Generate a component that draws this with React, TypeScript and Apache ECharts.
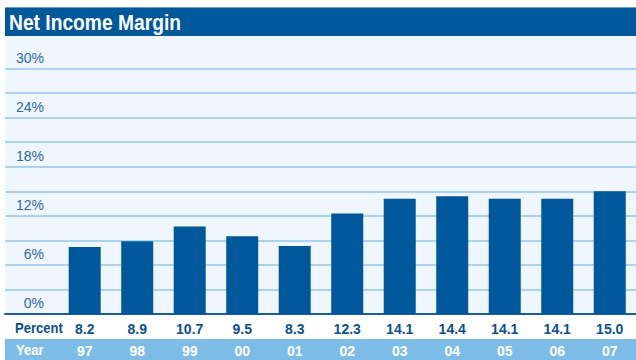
import React, { useEffect, useRef } from "react";
import * as echarts from "echarts";

const years = ["97", "98", "99", "00", "01", "02", "03", "04", "05", "06", "07"];
const netMargin = [8.2, 8.9, 10.7, 9.5, 8.3, 12.3, 14.1, 14.4, 14.1, 14.1, 15.0];
const yMin = 0;
const yMax = 30;
const yInterval = 3;
const labelStep = 6;

const FONT = '"Liberation Sans", Arial, sans-serif';
const DARK = "#00579a";
const LIGHT_BG = "#eff6fd";
const GRID_LINE = "#93c7ea";
const YEAR_BG = "#7dbce6";
const TEXT_DARK = "#0d4f8f";
const TICK_TEXT = "#2d69a8";

export default function App() {
  const ref = useRef<HTMLDivElement>(null);
  useEffect(() => {
    if (!ref.current) return;
    const chart = echarts.init(ref.current, null, { renderer: "svg" });
    const top = 68.6;
    const bottom = 46;
    chart.setOption({
      animation: false,
      grid: [
        { left: 5, right: 0, top, bottom },
        { left: 58.45, right: -6.5, top, bottom },
      ],
      xAxis: [
        {
          type: "value",
          gridIndex: 0,
          min: 0,
          max: 1,
          axisLine: { show: true, lineStyle: { color: "#1d5c98", width: 2 } },
          axisTick: { show: false },
          axisLabel: { show: false },
          splitLine: { show: false },
        },
        {
          type: "category",
          gridIndex: 1,
          data: years,
          axisLine: { show: false },
          axisTick: { show: false },
          axisLabel: {
            margin: 4,
            interval: 0,
            formatter: (v: string, i: number) => `{p|${netMargin[i].toFixed(1)}}\n{y|${v}}`,
            rich: {
              p: { fontFamily: FONT, fontSize: 14, fontWeight: "bold", color: TEXT_DARK, lineHeight: 22 },
              y: { fontFamily: FONT, fontSize: 14, fontWeight: "bold", color: "#ffffff", lineHeight: 22 },
            },
          },
        },
      ],
      yAxis: [
        {
          type: "value",
          gridIndex: 0,
          min: yMin,
          max: yMax,
          interval: yInterval,
          axisLine: { show: false },
          axisTick: { show: false },
          axisLabel: { show: false },
          splitLine: { show: true, lineStyle: { color: GRID_LINE, width: 1.5 } },
        },
        {
          type: "value",
          gridIndex: 1,
          min: yMin,
          max: yMax,
          interval: yInterval,
          axisLine: { show: false },
          axisTick: { show: false },
          splitLine: { show: false },
          axisLabel: {
            margin: 14.5,
            fontFamily: FONT,
            fontSize: 14,
            color: TICK_TEXT,
            verticalAlign: "bottom",
            lineHeight: 14,
            padding: [0, 0, 4, 0],
            formatter: (v: number) => (v % labelStep === 0 ? `${v}%` : ""),
          },
        },
      ],
      graphic: [
        { type: "rect", z: -10, shape: { x: 5, y: 36, width: 631, height: 278 }, style: { fill: LIGHT_BG } },
        { type: "rect", z: -10, shape: { x: 5, y: 339, width: 631, height: 21 }, style: { fill: YEAR_BG } },
        { type: "rect", z: 5, shape: { x: 5, y: 7, width: 631, height: 29 }, style: { fill: DARK } },
        { type: "rect", z: 6, shape: { x: 5, y: 7, width: 631, height: 1 }, style: { fill: "#6f9dc7" } },
        {
          type: "text",
          z: 7,
          x: 9,
          y: 22,
          scaleX: 0.874,
          style: { text: "Net Income Margin", fill: "#ffffff", font: `bold 22px ${FONT}`, verticalAlign: "middle", align: "left" },
        },
        {
          type: "text",
          z: 7,
          x: 15,
          y: 328,
          scaleX: 0.87,
          style: { text: "Percent", fill: TEXT_DARK, font: `bold 15px ${FONT}`, verticalAlign: "middle", align: "left" },
        },
        {
          type: "text",
          z: 7,
          x: 16,
          y: 350,
          scaleX: 0.87,
          style: { text: "Year", fill: "#ffffff", font: `bold 15px ${FONT}`, verticalAlign: "middle", align: "left" },
        },
      ],
      series: [
        {
          type: "bar",
          xAxisIndex: 1,
          yAxisIndex: 1,
          data: netMargin,
          barWidth: 32,
          itemStyle: { color: DARK },
          z: 3,
        },
      ],
    });
    return () => chart.dispose();
  }, []);
  return <div ref={ref} style={{ position: "absolute", left: 0, top: 0, width: 636, height: 360 }} />;
}
